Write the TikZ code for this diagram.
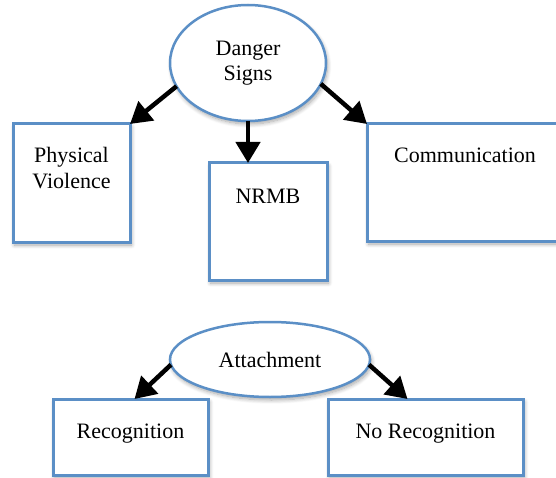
\documentclass[tikz,border=0pt]{standalone}
\usepackage{fontspec}
\setmainfont{Liberation Serif}
\usetikzlibrary{arrows.meta,shapes.geometric,shadows.blur}
\definecolor{bblue}{RGB}{91,143,198}
\begin{document}
\begin{tikzpicture}[x=1pt,y=-1pt,
  shad/.style={blur shadow={shadow xshift=1.5pt, shadow yshift=-3pt, shadow opacity=35, shadow blur steps=8, shadow blur radius=4pt}},
  box/.style={rectangle, draw=bblue, line width=3pt, fill=white, inner sep=0pt, outer sep=0pt, shad},
  oval/.style={ellipse, draw=bblue, line width=2.5pt, fill=white, inner sep=0pt, outer sep=0pt, align=center, font=\fontsize{22}{25}\selectfont, shad},
  lbl/.style={font=\fontsize{22}{26}\selectfont, anchor=base, inner sep=0pt},
  arr/.style={line width=4.5pt, -{Triangle[width=24pt,length=21pt]}}]
\path[use as bounding box, clip] (0,0) rectangle (556,478);
% top group
\node[oval, minimum width=156pt, minimum height=116pt] (ds) at (248,63) {Danger\\Signs};
\node[box, minimum width=117pt, minimum height=118pt] (pv) at (71.5,183) {};
\node[box, minimum width=118pt, minimum height=117pt] (nr) at (268,221.5) {};
\node[box, minimum width=196pt, minimum height=117pt] (cm) at (465,182.5) {};
\node[lbl] (pvt1) at (71.5,163) {Physical};
\node[lbl] (pvt2) at (71.5,189) {Violence};
\node[lbl] (nrt) at (268,204) {NRMB};
\node[lbl] (cmt) at (465,163) {Communication};
\draw[arr] (ds.198) -- (pv.north east);
\draw[arr] (ds.south) -- (ds.south |- nr.north);
\draw[arr] (ds.344) -- (cm.north west);
% bottom group
\node[oval, minimum width=200pt, minimum height=75pt] (at) at (270,359.5) {Attachment};
\node[box, minimum width=155pt, minimum height=76pt] (rc) at (130.5,437) {};
\node[box, minimum width=195pt, minimum height=76pt] (nrc) at (425.5,437) {};
\node[lbl] (rct) at (130.5,438) {Recognition};
\node[lbl] (nrct) at (425.5,438) {No Recognition};
\draw[arr] (at.183) -- ([xshift=4pt]rc.north);
\draw[arr] (at.357) -- ([xshift=-18pt]nrc.north);
\end{tikzpicture}
\end{document}
